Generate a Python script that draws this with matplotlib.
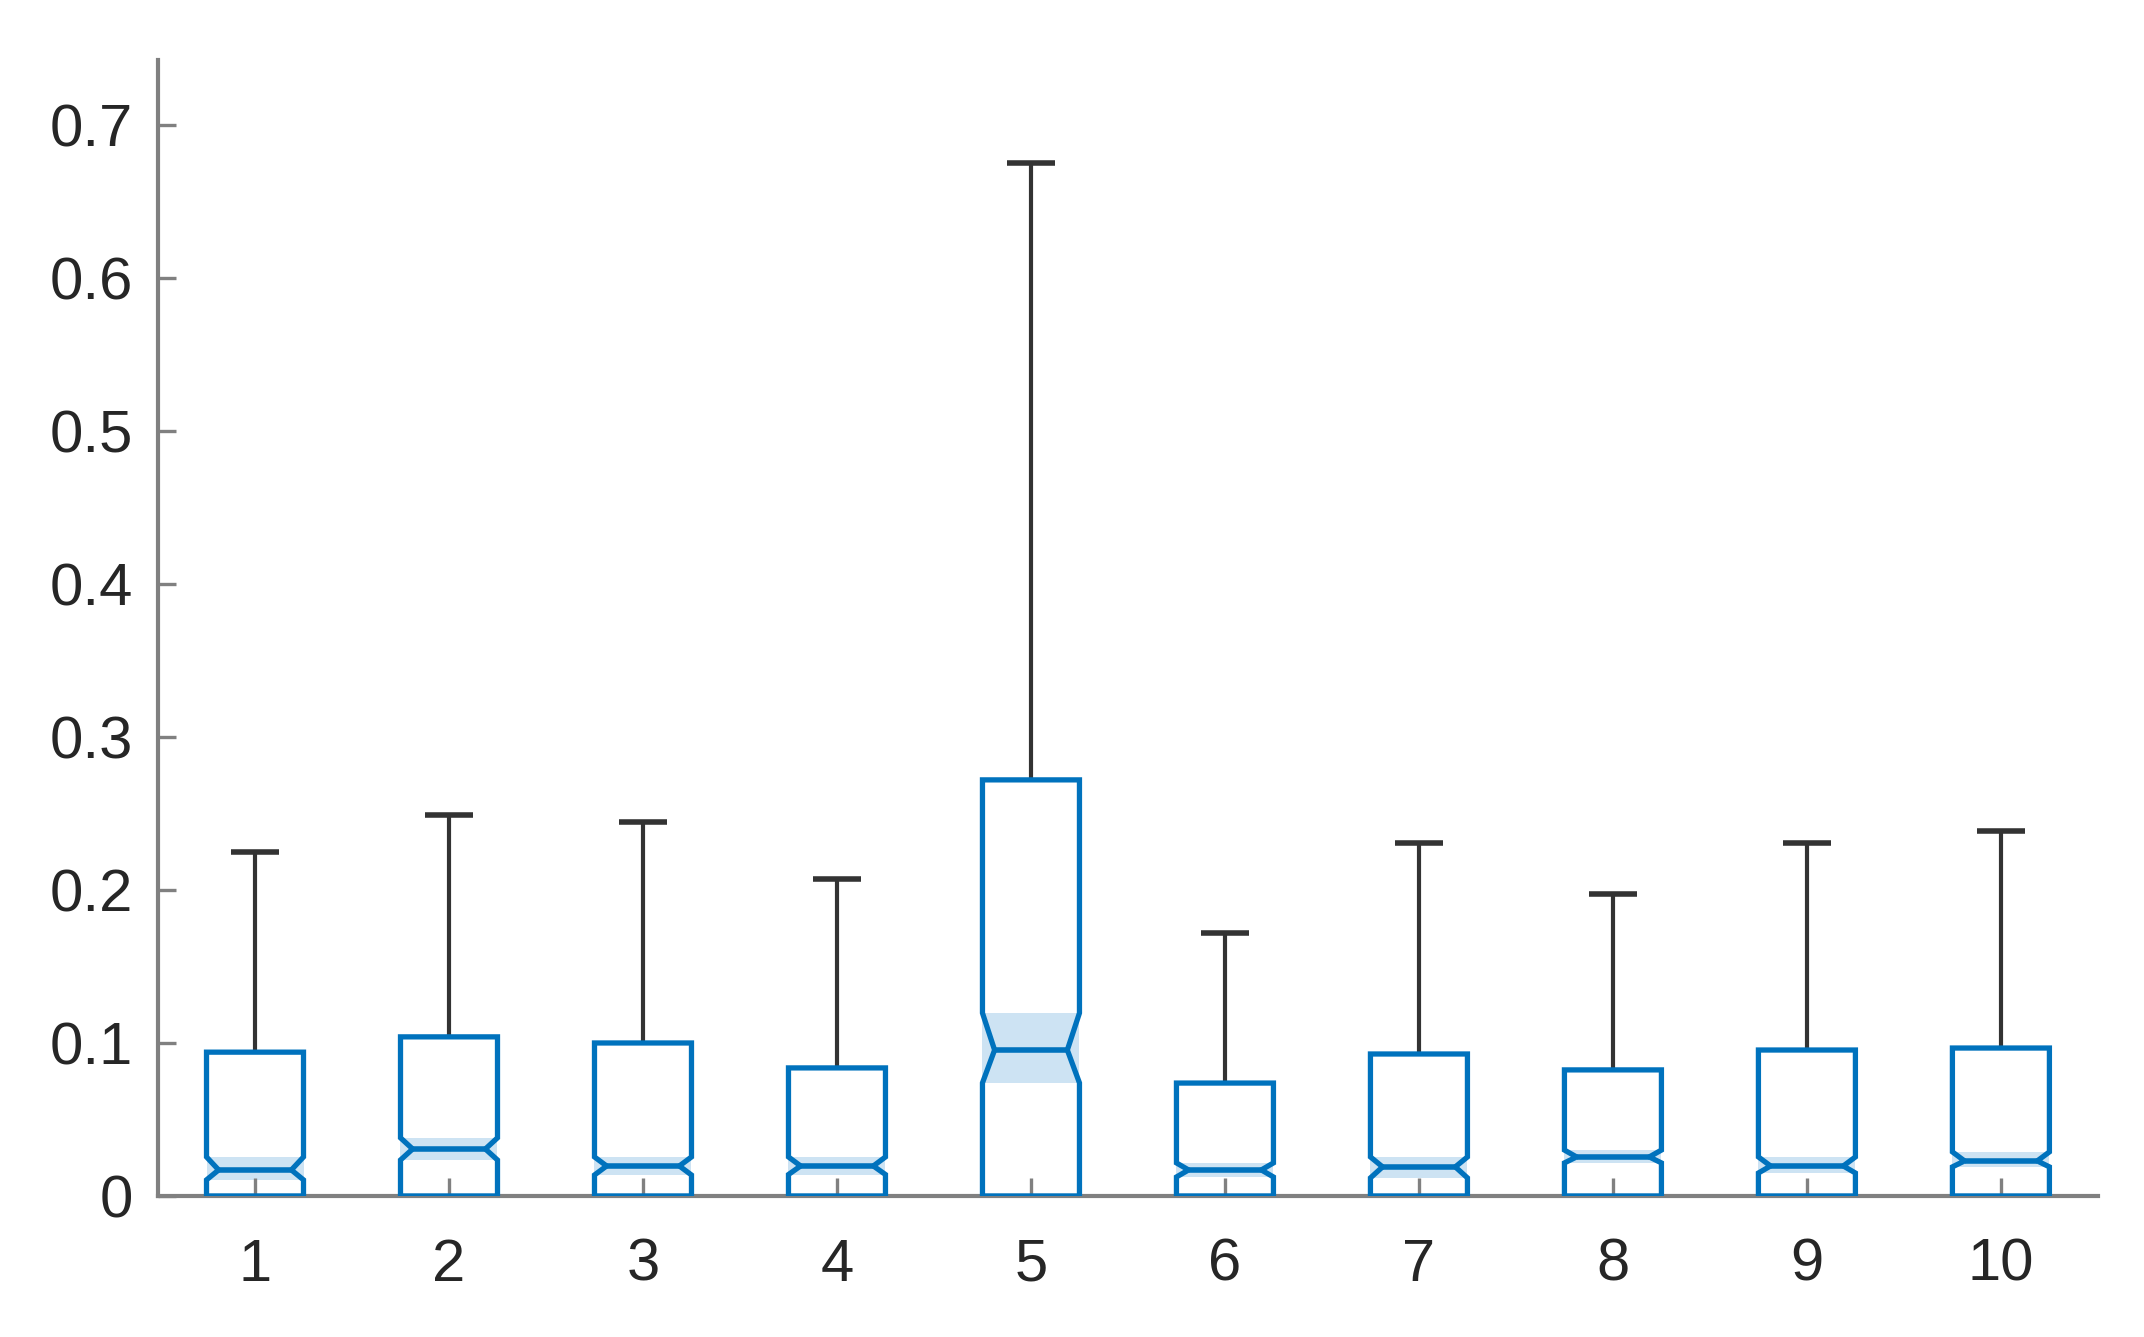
import matplotlib
matplotlib.use("Agg")
import matplotlib.pyplot as plt
from matplotlib.patches import Polygon, Rectangle
import numpy as np

# ---- data ----
categories = ['1', '2', '3', '4', '5', '6', '7', '8', '9', '10']
whisker_lo = [0, 0, 0, 0, 0, 0, 0, 0, 0, 0]
q1 = [0, 0, 0, 0, 0, 0, 0, 0, 0, 0]
median = [0.0170, 0.0307, 0.0196, 0.0196, 0.0954, 0.0170, 0.0190, 0.0255, 0.0196, 0.0229]
q3 = [0.0940, 0.1040, 0.1000, 0.0837, 0.2720, 0.0738, 0.0928, 0.0824, 0.0954, 0.0967]
whisker_hi = [0.2248, 0.2490, 0.2444, 0.2072, 0.6750, 0.1720, 0.2307, 0.1974, 0.2307, 0.2386]
notch_lo = [0.0105, 0.0235, 0.0137, 0.0140, 0.0739, 0.0124, 0.0118, 0.0216, 0.0150, 0.0190]
notch_hi = [0.0255, 0.0380, 0.0255, 0.0255, 0.1196, 0.0216, 0.0255, 0.0300, 0.0255, 0.0288]
yticks = [0, 0.1, 0.2, 0.3, 0.4, 0.5, 0.6, 0.7]
ytick_labels = ['0', '0.1', '0.2', '0.3', '0.4', '0.5', '0.6', '0.7']

# ---- style ----
BLUE = '#0072BD'
SHADE = '#CDE3F3'
WHISK = '#333333'
AXC = '#808080'
TXT = '#262626'
box_w = 0.5
notch_frac = 0.75
cap_w = 0.25

plt.rcParams['font.family'] = ['Liberation Sans', 'DejaVu Sans']

fig = plt.figure(figsize=(10.72, 6.685), dpi=200)
ax = fig.add_axes([0.0737, 0.1055, 0.9785 - 0.0737, 0.955 - 0.1055])

positions = np.arange(1, len(categories) + 1)
for i, x in enumerate(positions):
    hl = box_w / 2
    nl = hl * notch_frac
    # shaded notch (confidence interval) region
    ax.add_patch(Rectangle((x - hl, notch_lo[i]), box_w, notch_hi[i] - notch_lo[i],
                           facecolor=SHADE, edgecolor='none', zorder=1))
    # whiskers
    ax.plot([x, x], [q3[i], whisker_hi[i]], color=WHISK, lw=1.5, zorder=2,
            solid_capstyle='butt')
    ax.plot([x, x], [whisker_lo[i], q1[i]], color=WHISK, lw=1.5, zorder=2)
    ax.plot([x - cap_w / 2, x + cap_w / 2], [whisker_hi[i]] * 2, color=WHISK,
            lw=2.0, zorder=2, solid_capstyle='butt')
    # notched box outline
    xs = [x - hl, x + hl, x + hl, x + nl, x + hl, x + hl, x - hl, x - hl, x - nl, x - hl]
    ys = [q1[i], q1[i], notch_lo[i], median[i], notch_hi[i], q3[i], q3[i],
          notch_hi[i], median[i], notch_lo[i]]
    ax.add_patch(Polygon(np.column_stack([xs, ys]), closed=True, fill=False,
                         edgecolor=BLUE, lw=1.9, zorder=3, joinstyle='miter'))
    # median line
    ax.plot([x - nl, x + nl], [median[i]] * 2, color=BLUE, lw=2.0, zorder=3,
            solid_capstyle='butt')

ax.set_xlim(0.5, 10.5)
ax.set_ylim(0, 0.7425)
ax.set_xticks(positions)
ax.set_xticklabels(categories)
ax.set_yticks(yticks)
ax.set_yticklabels(ytick_labels)

for s in ['top', 'right']:
    ax.spines[s].set_visible(False)
for s in ['left', 'bottom']:
    ax.spines[s].set_color(AXC)
    ax.spines[s].set_linewidth(1.5)

ax.tick_params(axis='both', direction='in', length=6.5, width=1.2, color=AXC,
               labelsize=21.5, labelcolor=TXT)
ax.tick_params(axis='y', pad=9)
ax.tick_params(axis='x', pad=15)

fig.savefig('out.png', dpi=200, facecolor='white')
